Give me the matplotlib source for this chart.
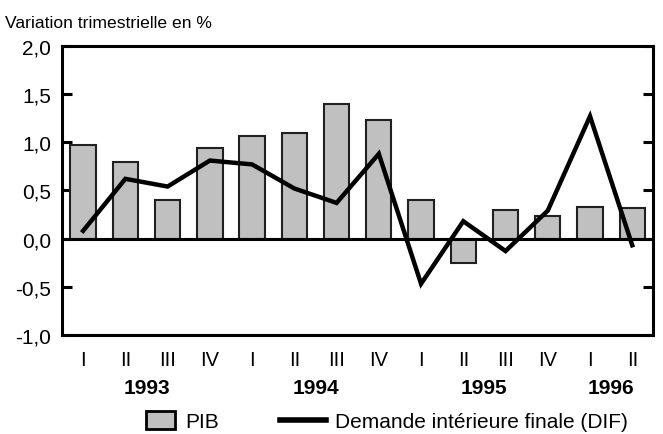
import matplotlib.pyplot as plt
import matplotlib.transforms as mtransforms
from matplotlib.patches import Patch
from matplotlib.lines import Line2D

plt.rcParams['font.family'] = ['Liberation Sans', 'DejaVu Sans']

# Data (quarterly change, %)
quarters = ['I', 'II', 'III', 'IV', 'I', 'II', 'III', 'IV',
            'I', 'II', 'III', 'IV', 'I', 'II']
years = ['1993', '1994', '1995', '1996']
year_pos = [1.5, 5.5, 9.5, 12.5]
pib = [0.97, 0.79, 0.40, 0.945, 1.07, 1.10, 1.395, 1.235,
       0.405, -0.25, 0.30, 0.23, 0.33, 0.32]
dif = [0.08, 0.62, 0.54, 0.81, 0.77, 0.52, 0.37, 0.88,
       -0.47, 0.18, -0.13, 0.29, 1.27, -0.07]

x = list(range(len(quarters)))

fig = plt.figure(figsize=(6.63, 4.35), dpi=100)
ax = fig.add_axes([0.0935, 0.228, 0.892, 0.664])

ax.bar(x, pib, width=0.6, color='#c0c0c0', edgecolor='#202020', linewidth=1.5, zorder=2)
ax.axhline(0, color='black', linewidth=2.2, zorder=3)
ax.plot(x, dif, color='black', linewidth=3.2, solid_joinstyle='miter', zorder=4)

ax.set_xlim(-0.5, len(x) - 0.5)
ax.set_ylim(-1.0, 2.0)
ax.set_yticks([-1.0, -0.5, 0.0, 0.5, 1.0, 1.5, 2.0])
ax.set_yticklabels(['-1,0', '-0,5', '0,0', '0,5', '1,0', '1,5', '2,0'])
ax.tick_params(axis='y', direction='in', length=7, width=2.2, labelsize=15,
               pad=8, right=True)
ax.set_xticks(x)
ax.set_xticklabels(quarters)
ax.tick_params(axis='x', length=0, labelsize=14.5, pad=11)

for s in ax.spines.values():
    s.set_linewidth(2.2)

trans = mtransforms.blended_transform_factory(ax.transData, fig.transFigure)
for yr, p in zip(years, year_pos):
    ax.text(p, 0.108, yr, transform=trans, ha='center', va='center',
            fontsize=15, fontweight='bold')

fig.text(0.008, 0.936, 'Variation trimestrielle en %', fontsize=12.6,
         ha='left', va='baseline')

# two legends so each key can have its own length
leg1 = fig.legend([Patch(facecolor='#c0c0c0', edgecolor='black', linewidth=2)], ['PIB'],
                  loc='center left', bbox_to_anchor=(146 / 663, 0.029), frameon=False,
                  fontsize=15, handlelength=1.4, handleheight=0.95,
                  handletextpad=0.5, borderpad=0, borderaxespad=0)
leg2 = fig.legend([Line2D([0], [0], color='black', linewidth=4)],
                  ['Demande intérieure finale (DIF)'],
                  loc='center left', bbox_to_anchor=(280 / 663, 0.029), frameon=False,
                  fontsize=15, handlelength=2.2, handletextpad=0.45,
                  borderpad=0, borderaxespad=0)

fig.savefig('out.png', dpi=100)
